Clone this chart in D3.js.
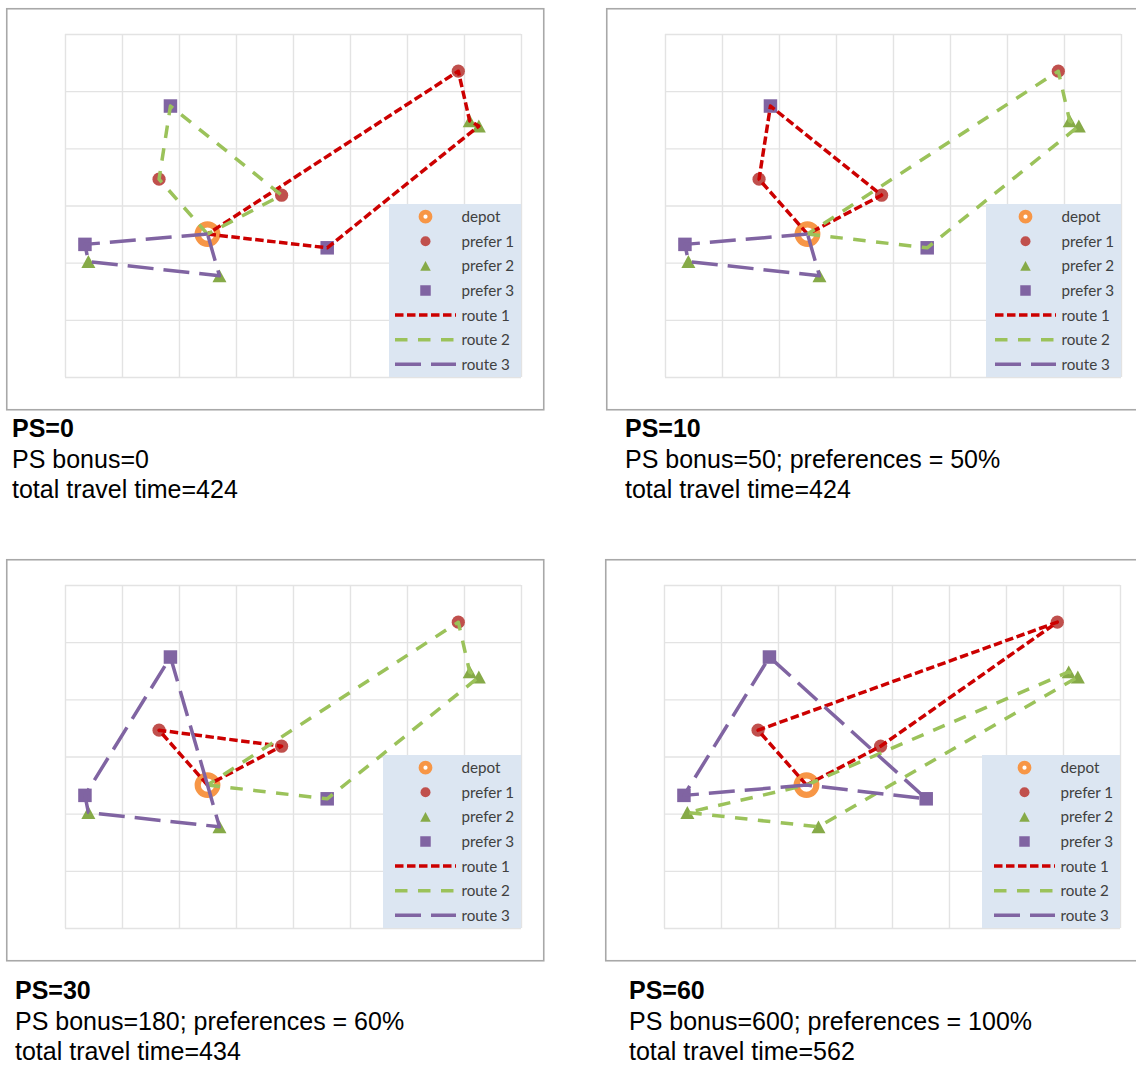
<!DOCTYPE html>
<html><head><meta charset="utf-8">
<script src="https://cdn.jsdelivr.net/npm/d3@7"></script>
<style>body{margin:0;background:#fff} svg{display:block}</style>
</head><body><svg id="c" width="1136" height="1067"></svg>
<script>
// ---- data ----
const xTicks = [0,10,20,30,40,50,60,70,80];
const yTicks = [0,10,20,30,40,50,60];
const depot   = [[25,25]];
const prefer1 = [[69,53.5],[16.5,34.6],[38,31.8]];
const prefer2 = [[71,44.8],[72.6,43.9],[4.1,20.2],[27.1,17.7]];
const prefer3 = [[18.5,47.4],[3.5,23.2],[46,22.6]];
const panelNames = ["PS=0","PS=10","PS=30","PS=60"];
const bonusText = ["PS bonus=0","PS bonus=50; preferences = 50%","PS bonus=180; preferences = 60%","PS bonus=600; preferences = 100%"];
const travelText = ["total travel time=424","total travel time=424","total travel time=434","total travel time=562"];
const legendNames = ["depot","prefer 1","prefer 2","prefer 3","route 1","route 2","route 3"];
// routes per panel (x,y sequences)
const route1 = [
  [[25,25],[46,22.6],[72.6,43.9],[71,44.8],[69,53.5],[25,25]],
  [[25,25],[16.5,34.6],[18.5,47.4],[38,31.8],[25,25]],
  [[25,25],[16.5,34.6],[38,31.8],[25,25]],
  [[25,25],[16.5,34.6],[69,53.5],[38,31.8],[25,25]]
];
const route2 = [
  [[25,25],[16.5,34.6],[18.5,47.4],[38,31.8],[25,25]],
  [[25,25],[46,22.6],[72.6,43.9],[71,44.8],[69,53.5],[25,25]],
  [[25,25],[46,22.6],[72.6,43.9],[71,44.8],[69,53.5],[25,25]],
  [[25,25],[71,44.8],[72.6,43.9],[27.1,17.7],[4.1,20.2],[25,25]]
];
const route3 = [
  [[25,25],[3.5,23.2],[4.1,20.2],[27.1,17.7],[25,25]],
  [[25,25],[3.5,23.2],[4.1,20.2],[27.1,17.7],[25,25]],
  [[25,25],[18.5,47.4],[3.5,23.2],[4.1,20.2],[27.1,17.7],[25,25]],
  [[25,25],[3.5,23.2],[18.5,47.4],[46,22.6],[25,25]]
];

// ---- layout & style ----
const frames = [{x:6,y:8},{x:606,y:8},{x:6,y:559},{x:605,y:559}];
const FW = 537, FH = 401, PL = 59, PT = 26, PW = 456, PH = 343;
const legendW = [132,135,138,138];
const capX = [12,625,15,629];
const capY = [[437,468,498],[437,468,498],[999,1030,1060],[999,1030,1060]];
const C = {depot:"#F79646", p1:"#C0504D", p2:"#86AA48", p3:"#8064A2",
           r1:"#CC0000", r2:"#9BC25A", r3:"#8064A2"};
const routeStyle = [
  {c:C.r1, dash:"8.5,3.5"},
  {c:C.r2, dash:"12.5,10.5"},
  {c:C.r3, dash:"26,10"}
];

const svg = d3.select("#c");
svg.append("rect").attr("width",1136).attr("height",1067).attr("fill","#fff");
const x = d3.scaleLinear().domain([0,80]).range([0,PW]);
const y = d3.scaleLinear().domain([0,60]).range([PH,0]);
const line = d3.line().x(d=>x(d[0])).y(d=>y(d[1]));

function tri(s){ const h=s*0.92; return `M0,${-h/2}L${s/2},${h/2}L${-s/2},${h/2}Z`; }

function drawMarker(g, kind, cx, cy, legend){
  if(kind===0){
    g.append("circle").attr("cx",cx).attr("cy",cy).attr("r",legend?4.5:9.8)
      .attr("fill","#fff").attr("stroke",C.depot).attr("stroke-width",legend?4.8:6.2);
  } else if(kind===1){
    g.append("circle").attr("cx",cx).attr("cy",cy).attr("r",legend?5:6.6).attr("fill",C.p1);
  } else if(kind===2){
    g.append("path").attr("d",tri(legend?10.5:14)).attr("transform",`translate(${cx},${cy})`).attr("fill",C.p2);
  } else {
    const s = legend?10.5:13.5;
    g.append("rect").attr("x",cx-s/2).attr("y",cy-s/2).attr("width",s).attr("height",s).attr("fill",C.p3);
  }
}

frames.forEach((f,i)=>{
  const G = svg.append("g");
  G.append("rect").attr("x",f.x+0.75).attr("y",f.y+0.75).attr("width",FW).attr("height",FH)
    .attr("fill","#fff").attr("stroke","#A8A8A8").attr("stroke-width",1.6);
  const g = G.append("g").attr("transform",`translate(${f.x+PL},${f.y+PT})`);
  // gridlines
  const gx = g.append("g").attr("transform",`translate(0,${PH})`)
    .call(d3.axisBottom(x).tickValues(xTicks).tickSize(-PH).tickFormat(""));
  const gy = g.append("g").call(d3.axisLeft(y).tickValues(yTicks).tickSize(-PW).tickFormat(""));
  [gx,gy].forEach(a=>{ a.select(".domain").remove();
    a.selectAll("line").attr("stroke","#E3E3E3").attr("stroke-width",1.4); });
  // legend box
  const lw = legendW[i];
  g.append("rect").attr("x",PW-lw).attr("y",170).attr("width",lw).attr("height",PH-170).attr("fill","#DCE6F2");
  // markers
  const mg = g.append("g");
  depot.forEach(d=>drawMarker(mg,0,x(d[0]),y(d[1]),false));
  prefer1.forEach(d=>drawMarker(mg,1,x(d[0]),y(d[1]),false));
  prefer2.forEach(d=>drawMarker(mg,2,x(d[0]),y(d[1]),false));
  prefer3.forEach(d=>drawMarker(mg,3,x(d[0]),y(d[1]),false));
  // routes
  [route1[i],route2[i],route3[i]].forEach((r,k)=>{
    g.append("path").attr("d",line(r)).attr("fill","none").attr("stroke",routeStyle[k].c)
      .attr("stroke-width",3.5).attr("stroke-dasharray",routeStyle[k].dash).attr("stroke-linejoin","round");
  });
  // legend content
  legendNames.forEach((name,k)=>{
    const ly = 170 + 12.7 + k*24.6;
    if(k<4){ drawMarker(g,k,PW-95.5,ly,true); }
    else {
      const rs = routeStyle[k-4];
      g.append("line").attr("x1",PW-126).attr("x2",PW-65).attr("y1",ly).attr("y2",ly)
        .attr("stroke",rs.c).attr("stroke-width",3.5).attr("stroke-dasharray",rs.dash);
    }
    g.append("text").attr("x",PW-59.5).attr("y",ly).attr("dy","0.36em")
      .attr("font-family","Lato, 'Noto Sans', sans-serif").attr("font-size",15.2)
      .attr("fill","#404040").text(name);
  });
  // captions
  const lines = [panelNames[i], bonusText[i], travelText[i]];
  lines.forEach((t,k)=>{
    svg.append("text").attr("x",capX[i]).attr("y",capY[i][k])
      .attr("font-family","'Liberation Sans', Arial, sans-serif").attr("font-size",25)
      .attr("font-weight",k===0?"bold":"normal").attr("fill","#000").text(t);
  });
});
</script></body></html>
